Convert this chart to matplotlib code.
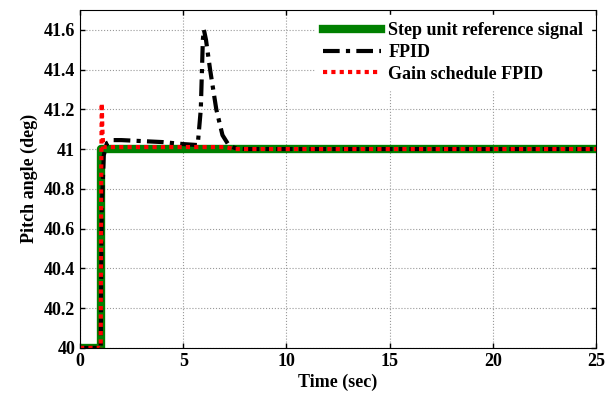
import numpy as np
import matplotlib.pyplot as plt

plt.rcParams['font.family'] = ['Liberation Serif', 'DejaVu Serif']
plt.rcParams['font.weight'] = 'bold'

# step reference
t_ref = [0, 1.0, 1.0, 25]
y_ref = [40, 40, 41, 41]

# FPID response
t_fpid = [0, 1.0, 1.05, 1.15, 1.3, 1.6, 2.0, 3.0, 4.0, 5.0, 5.7, 5.85, 5.95, 6.0,
          6.1, 6.3, 6.6, 6.9, 7.2, 7.5, 8.0, 25]
y_fpid = [40, 40, 40.7, 40.97, 41.03, 41.045, 41.045, 41.04, 41.035, 41.025, 41.02,
          41.2, 41.55, 41.6, 41.55, 41.4, 41.2, 41.07, 41.02, 41.005, 41.0, 41.0]

# gain scheduled FPID response
t_gs = [0, 1.0, 1.02, 1.05, 1.08, 1.12, 1.3, 3.0, 5.0, 7.0, 7.5, 25]
y_gs = [40, 40, 40.8, 41.23, 41.1, 41.01, 41.01, 41.01, 41.01, 41.01, 41.0, 41.0]

fig = plt.figure(figsize=(6.16, 3.94), dpi=100)
ax = fig.add_axes([0.13, 0.117, 0.8375, 0.858])

ax.plot(t_ref, y_ref, color='green', lw=6, label='Step unit reference signal')
ax.plot(t_fpid, y_fpid, color='black', lw=3, ls=(0, (4, 1.5, 1, 1.5)), label='FPID')
ax.plot(t_gs, y_gs, color='red', lw=3, ls=(0, (1, 1)), label='Gain schedule FPID')

ax.set_xlim(0, 25)
ax.set_ylim(40, 41.7)
ax.set_xticks([0, 5, 10, 15, 20, 25])
ax.set_yticks([40, 40.2, 40.4, 40.6, 40.8, 41, 41.2, 41.4, 41.6])
ax.set_yticklabels(['40', '40.2', '40.4', '40.6', '40.8', '41', '41.2', '41.4', '41.6'])
ax.tick_params(direction='in', top=True, right=True, labelsize=13, width=1)
ax.grid(True, color='#999999', ls=':', lw=0.8)
ax.set_xlabel('Time (sec)', fontsize=13, fontweight='bold', labelpad=3)
ax.set_ylabel('Pitch angle (deg)', fontsize=13, fontweight='bold')

leg = ax.legend(loc='upper right', fontsize=13, frameon=True, framealpha=1,
                edgecolor='white', fancybox=False, handlelength=3.2,
                borderaxespad=0.3, labelspacing=0.25, handletextpad=0.4)
for t in leg.get_texts():
    t.set_fontweight('bold')

fig.savefig('out.png', dpi=100)
